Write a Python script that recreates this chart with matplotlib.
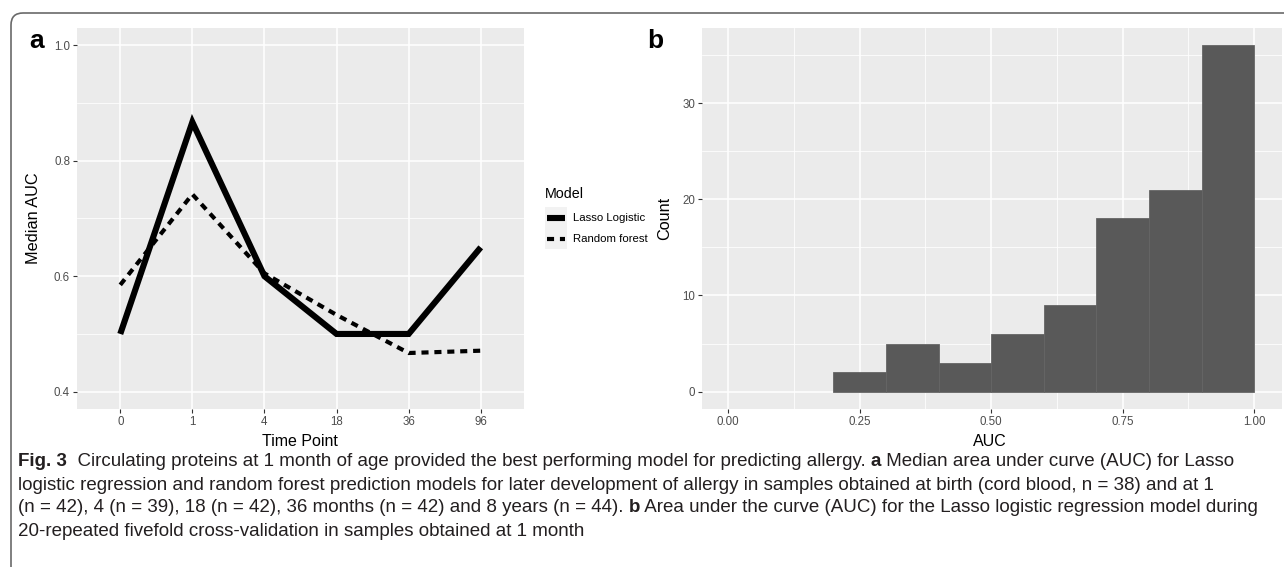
import matplotlib
matplotlib.use("Agg")
import matplotlib.pyplot as plt
import matplotlib.patches as mpatches
import matplotlib.transforms as mtransforms
from matplotlib.lines import Line2D

# panel a data
time_points = ['0', '1', '4', '18', '36', '96']
lasso_auc = [0.50, 0.867, 0.60, 0.50, 0.50, 0.65]
rf_auc = [0.585, 0.742, 0.605, 0.533, 0.467, 0.471]
model_names = ['Lasso Logistic', 'Random forest']

# panel b data (histogram, binwidth 0.1)
bin_left = [0.2, 0.3, 0.4, 0.5, 0.6, 0.7, 0.8, 0.9]
bin_count = [2, 5, 3, 6, 9, 18, 21, 36]

W, H = 1284, 567
plt.rcParams['font.family'] = ['Liberation Sans', 'DejaVu Sans']
fig = plt.figure(figsize=(W / 100, H / 100), dpi=100)
px = mtransforms.IdentityTransform()


def pix(x, y):
    # top-left pixel coords -> figure fraction
    return x / W, 1 - y / H


def gg_axes(rect):
    ax = fig.add_axes(rect)
    ax.set_facecolor('#ebebeb')
    for s in ax.spines.values():
        s.set_visible(False)
    ax.set_axisbelow(True)
    ax.grid(which='major', color='white', linewidth=1.1)
    ax.grid(which='minor', color='white', linewidth=0.55)
    ax.tick_params(which='major', length=3, width=0.8, color='#333333',
                   labelsize=8.3, labelcolor='#4d4d4d', pad=2)
    ax.tick_params(which='minor', length=0)
    return ax


# ---- panel a
ax1 = gg_axes([77 / W, 1 - 409 / H, 447 / W, 381 / H])
ax1.plot(time_points, lasso_auc, color='black', lw=4.4,
         solid_capstyle='butt', solid_joinstyle='miter')
ax1.plot(time_points, rf_auc, color='black', lw=3.0, linestyle=(0, (1.7, 1.4)),
         dash_capstyle='butt', dash_joinstyle='miter')
ax1.set_xlim(-0.6, 5.6)
ax1.set_ylim(0.37, 1.03)
ax1.set_yticks([0.4, 0.6, 0.8, 1.0])
ax1.set_yticklabels(['0.4', '0.6', '0.8', '1.0'])
ax1.set_yticks([0.5, 0.7, 0.9], minor=True)
ax1.grid(which='minor', axis='x', visible=False)

# legend drawn by hand (ggplot style)
fig.text(*pix(545, 194), 'Model', fontsize=10.3, va='center', ha='left')
fig.add_artist(mpatches.Rectangle(pix(545, 249), 22 / W, 42 / H,
                                  transform=fig.transFigure, facecolor='#f2f2f2',
                                  edgecolor='none'))
ys = [218, 239]
styles = [dict(lw=4.4, solid_capstyle='butt'),
          dict(lw=3.0, linestyle=(0, (1.7, 1.4)), dash_capstyle='butt')]
for name, yy, st in zip(model_names, ys, styles):
    x0, y0 = pix(547, yy)
    x1, _ = pix(565, yy)
    fig.add_artist(Line2D([x0, x1], [y0, y0], color='black',
                          transform=fig.transFigure, **st))
    fig.text(*pix(573, yy), name, fontsize=8.2, va='center', ha='left')

fig.text(*pix(34, 218), 'Median AUC', fontsize=11.7, rotation=90,
         va='center', ha='center')
fig.text(*pix(300, 442), 'Time Point', fontsize=11.5, va='center', ha='center')

# ---- panel b
ax2 = gg_axes([702 / W, 1 - 409 / H, 580 / W, 381 / H])
ax2.bar(bin_left, bin_count, width=0.1, align='edge', color='#595959',
        edgecolor='#656565', linewidth=0.6)
ax2.set_xlim(-0.05, 1.053)
ax2.set_ylim(-1.8, 37.8)
ax2.set_xticks([0, 0.25, 0.5, 0.75, 1.0])
ax2.set_xticklabels(['0.00', '0.25', '0.50', '0.75', '1.00'])
ax2.set_xticks([0.125, 0.375, 0.625, 0.875], minor=True)
ax2.set_yticks([0, 10, 20, 30])
ax2.set_yticks([5, 15, 25, 35], minor=True)

fig.text(*pix(665, 218), 'Count', fontsize=11.7, rotation=90,
         va='center', ha='center')
fig.text(*pix(990, 442), 'AUC', fontsize=11.5, va='center', ha='center')

# panel letters
fig.text(*pix(29, 48), 'a', fontsize=19, fontweight='bold', va='baseline')
fig.text(*pix(647, 48), 'b', fontsize=19, fontweight='bold', va='baseline')

# rounded frame (only top-left corner visible)
fig.add_artist(mpatches.FancyBboxPatch((11, -60), 1400, H - 13 + 60,
                                       boxstyle='round,pad=0,rounding_size=12',
                                       transform=px, facecolor='none',
                                       edgecolor='#6a6a6a', linewidth=1.2))

# caption with bold runs
cap_font = ['Liberation Sans', 'DejaVu Sans']
caption = [
    [('Fig. 3', 'bold'),
     ('  Circulating proteins at 1 month of age provided the best performing model for predicting allergy. ', 'normal'),
     ('a', 'bold'), (' Median area under curve (AUC) for Lasso', 'normal')],
    [('logistic regression and random forest prediction models for later development of allergy in samples obtained at birth (cord blood, n = 38) and at 1', 'normal')],
    [('(n = 42), 4 (n = 39), 18 (n = 42), 36 months (n = 42) and 8 years (n = 44). ', 'normal'),
     ('b', 'bold'),
     (' Area under the curve (AUC) for the Lasso logistic regression model during', 'normal')],
    [('20-repeated fivefold cross-validation in samples obtained at 1 month', 'normal')],
]
cap_y = [462, 485, 508, 531]
cap_end = [1270, 1262, 1263, 10000]
renderer = fig.canvas.get_renderer()


def draw_line(runs, yy, size):
    x = 18
    made = []
    for txt, wt in runs:
        t = fig.text(x, H - yy, txt, transform=px, fontsize=size,
                     fontweight=wt, family=cap_font, color='#231f20',
                     va='center', ha='left')
        made.append(t)
        x = t.get_window_extent(renderer).x1
    return x, made


# fit caption lines inside the reference line ends
ratios = []
for runs, yy, xe in zip(caption, cap_y, cap_end):
    end, tmp = draw_line(runs, yy, 12.0)
    for t in tmp:
        t.remove()
    ratios.append((xe - 18) / (end - 18))
cap_size = 12.0 * min(ratios)
for runs, yy in zip(caption, cap_y):
    draw_line(runs, yy, cap_size)

fig.savefig('out.png', dpi=100)
